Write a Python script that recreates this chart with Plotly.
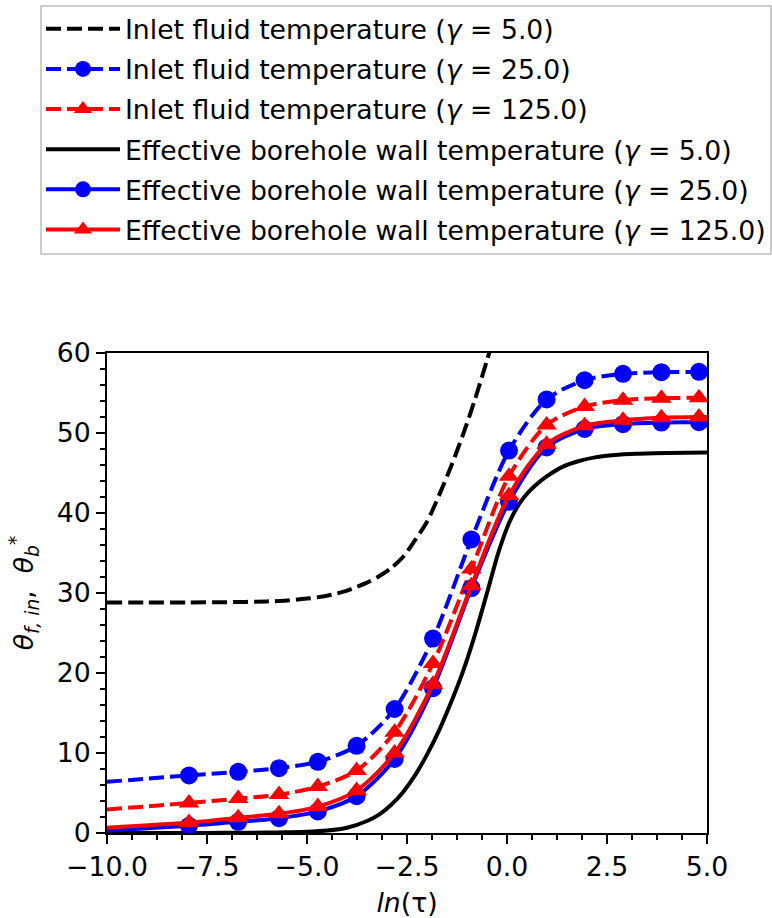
import plotly.graph_objects as go

# ln(tau) positions of the marker samples (shared by the coloured series)
mark_x = [-7.95, -6.72, -5.70, -4.73, -3.76, -2.81, -1.85, -0.89, 0.05, 0.99, 1.94, 2.90, 3.86, 4.80]
x_start, x_end = -10.0, 5.0

# Inlet fluid temperature, gamma = 25 / 125 (start, markers..., end)
inlet_25 = [6.4, 7.2, 7.65, 8.1, 8.9, 10.9, 15.5, 24.3, 36.7, 47.8, 54.2, 56.6, 57.4, 57.6, 57.65, 57.7]
inlet_125 = [2.95, 3.75, 4.3, 4.8, 5.8, 7.8, 12.6, 21.2, 33.0, 44.6, 51.0, 53.3, 54.1, 54.35, 54.4, 54.4]

# Effective borehole wall temperature, gamma = 25 / 125
wall_25 = [0.3, 0.9, 1.4, 1.85, 2.7, 4.6, 9.25, 18.1, 30.6, 41.4, 48.2, 50.5, 51.1, 51.3, 51.35, 51.4]
wall_125 = [0.65, 1.3, 1.9, 2.4, 3.3, 5.3, 10.0, 18.6, 30.9, 42.2, 48.6, 50.9, 51.6, 51.9, 52.0, 52.0]

# gamma = 5 curves (no markers)
g5_x = [-10, -9, -8, -7, -6, -5.5, -5, -4.5, -4, -3.5, -3.2, -2.9, -2.6, -2.3, -2.0,
        -1.7, -1.4, -1.1, -0.8, -0.5, -0.2, 0.1, 0.4, 0.7, 1.0, 1.4, 1.8, 2.2, 2.7, 3.3, 4.0, 5.0]
wall_5 = [0.0, 0.0, 0.01, 0.02, 0.05, 0.09, 0.15, 0.3, 0.65, 1.5, 2.3, 3.5, 5.1, 7.2, 9.8,
          12.8, 16.3, 20.2, 24.8, 30.0, 35.3, 39.3, 41.8, 43.4, 44.6, 45.8, 46.5, 46.95, 47.25, 47.4, 47.5, 47.55]
inlet5_x = [-10, -9, -8, -7, -6, -5.5, -5, -4.5, -4, -3.5, -3.2, -2.9, -2.6, -2.3, -2.0,
            -1.7, -1.4, -1.1, -0.8, -0.5, -0.2, 0.1]
inlet_5 = [28.8, 28.8, 28.82, 28.85, 28.95, 29.05, 29.3, 29.65, 30.3, 31.3, 32.1, 33.1, 34.5, 36.6, 38.9,
           42.2, 45.8, 49.8, 54.2, 59.1, 64.0, 68.0]

x_ticks = [-10.0, -7.5, -5.0, -2.5, 0.0, 2.5, 5.0]
y_ticks = [0, 10, 20, 30, 40, 50, 60]

FONT = "DejaVu Sans"
FS = 26.7
LW = 4
DASH = "15px,6px"
MS = 18

W, H = 772, 918
M_L, M_R, M_T, M_B = 107, 65, 353, 85
PLOT_W, PLOT_H = W - M_L - M_R, H - M_T - M_B


def px_to_paper_x(px):
    return (px - M_L) / PLOT_W


def px_to_paper_y(py):
    return (H - M_B - py) / PLOT_H


line_x = [x_start] + mark_x + [x_end]

fig = go.Figure()


def add_series(name, xs, ys, color, dash, symbol=None):
    # curve
    fig.add_trace(go.Scatter(
        x=xs, y=ys, mode="lines", showlegend=False, hoverinfo="skip",
        line=dict(color=color, width=LW, dash=dash, shape="spline", smoothing=0.8),
    ))
    # sample markers
    if symbol:
        fig.add_trace(go.Scatter(
            x=mark_x, y=ys[1:-1], mode="markers", showlegend=False,
            marker=dict(color=color, size=MS, symbol=symbol, line=dict(width=0)),
        ))
    # legend entry
    fig.add_trace(go.Scatter(
        x=[None], y=[None], name=name, legendgroup=name,
        mode="lines+markers" if symbol else "lines",
        line=dict(color=color, width=LW, dash=dash),
        marker=dict(color=color, size=MS, symbol=symbol or "circle", line=dict(width=0)),
    ))


add_series("Inlet fluid temperature (<i>γ</i> = 5.0)", inlet5_x, inlet_5, "black", DASH)
add_series("Inlet fluid temperature (<i>γ</i> = 25.0)", line_x, inlet_25, "#0000ff", DASH, "circle")
add_series("Inlet fluid temperature (<i>γ</i> = 125.0)", line_x, inlet_125, "#ff0000", DASH, "triangle-up")
add_series("Effective borehole wall temperature (<i>γ</i> = 5.0)", g5_x, wall_5, "black", "solid")
add_series("Effective borehole wall temperature (<i>γ</i> = 25.0)", line_x, wall_25, "#0000ff", "solid", "circle")
add_series("Effective borehole wall temperature (<i>γ</i> = 125.0)", line_x, wall_125, "#ff0000", "solid", "triangle-up")

axis_common = dict(
    showgrid=False, zeroline=False, showline=True, linewidth=2, linecolor="black",
    mirror=True, ticks="outside", ticklen=9, tickwidth=2, tickcolor="black",
    automargin=False,
    tickfont=dict(family=FONT, size=FS, color="black"),
)

fig.update_xaxes(
    range=[x_ticks[0], x_ticks[-1]], tickvals=x_ticks,
    ticktext=[f"{v:.1f}".replace("-", "\u2212") for v in x_ticks],
    minor=dict(tickvals=[x_ticks[0] + i * 0.625 for i in range(25)], ticklen=5, tickwidth=2,
               tickcolor="black", ticks="outside"),
    title=dict(text="<i>ln</i>(τ)", font=dict(family=FONT, size=FS, color="black")),
    **axis_common,
)
fig.update_yaxes(
    range=[y_ticks[0], y_ticks[-1]], tickvals=y_ticks,
    minor=dict(tickvals=list(range(0, 61, 2)), ticklen=5, tickwidth=2, tickcolor="black", ticks="outside"),
    title=dict(text="<i>θ</i><sub><i>f, in</i></sub>,  <i>θ</i><sub><i>b</i></sub><sup>*</sup>",
               font=dict(family=FONT, size=FS, color="black")),
    **axis_common,
)

# legend frame
fig.add_shape(
    type="rect", xref="paper", yref="paper", layer="below",
    x0=px_to_paper_x(41), x1=px_to_paper_x(771), y0=px_to_paper_y(254), y1=px_to_paper_y(6),
    line=dict(color="#cccccc", width=2), fillcolor="white",
)

fig.update_layout(
    width=W, height=H,
    margin=dict(l=M_L, r=M_R, t=M_T, b=M_B, autoexpand=False),
    plot_bgcolor="white", paper_bgcolor="white",
    font=dict(family=FONT, size=FS, color="black"),
    showlegend=True,
    legend=dict(
        x=px_to_paper_x(41), y=px_to_paper_y(5), xanchor="left", yanchor="top",
        bgcolor="rgba(0,0,0,0)", borderwidth=0,
        font=dict(family=FONT, size=FS, color="black"),
        traceorder="grouped", tracegroupgap=2.4, itemwidth=74,
    ),
)

fig.write_html("out.html")
